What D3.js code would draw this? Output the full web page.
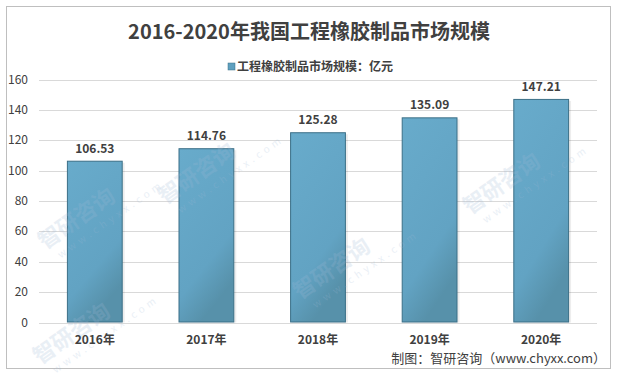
<!DOCTYPE html>
<html>
<head>
<meta charset="utf-8">
<script src="https://cdn.jsdelivr.net/npm/d3@7"></script>
<style>
  body { margin: 0; background: #fff; }
  text { font-family: "Noto Sans CJK SC", "Noto Sans", sans-serif; }
</style>
</head>
<body>
<div id="chart"></div>
<script>
var svgWidth = 617;
var svgHeight = 375;

// data
var years = ['2016年', '2017年', '2018年', '2019年', '2020年'];
var values = [106.53, 114.76, 125.28, 135.09, 147.21];
var yTicks = [0, 20, 40, 60, 80, 100, 120, 140, 160];
var title = '2016-2020年我国工程橡胶制品市场规模';
var legendLabel = '工程橡胶制品市场规模：亿元';
var source = '制图：智研咨询（www.chyxx.com）';

var svg = d3.select('#chart').append('svg')
  .attr('width', svgWidth)
  .attr('height', svgHeight);

var defs = svg.append('defs');
var grad = defs.append('linearGradient')
  .attr('id', 'barGrad')
  .attr('x1', '0%').attr('y1', '0%')
  .attr('x2', '40%').attr('y2', '100%');
grad.append('stop').attr('offset', '0%').attr('stop-color', '#68abcb');
grad.append('stop').attr('offset', '75%').attr('stop-color', '#62a3c3');
grad.append('stop').attr('offset', '100%').attr('stop-color', '#5791aa');

// outer frame
svg.append('rect')
  .attr('x', 6.5).attr('y', 6.5)
  .attr('width', 604).attr('height', 362)
  .attr('fill', '#fff')
  .attr('stroke', '#bfbfbf');

var x = d3.scaleBand()
  .domain(years)
  .range([39, 597])
  .paddingInner(0.5)
  .paddingOuter(0.25);

var y = d3.scaleLinear()
  .domain([0, 160])
  .range([322.5, 79.5]);

// gridlines
svg.append('g')
  .selectAll('line')
  .data(yTicks)
  .enter()
  .append('line')
  .attr('x1', 39).attr('x2', 597)
  .attr('y1', d => Math.round(y(d)) + 0.5)
  .attr('y2', d => Math.round(y(d)) + 0.5)
  .attr('stroke', '#d9d9d9');

// y tick labels
svg.append('g')
  .selectAll('text')
  .data(yTicks)
  .enter()
  .append('text')
  .attr('x', 28)
  .attr('y', d => y(d) + 4)
  .attr('text-anchor', 'end')
  .attr('font-size', 12)
  .attr('fill', '#404040')
  .text(d => d);

// bar shadows
svg.append('g')
  .selectAll('rect')
  .data(values)
  .enter()
  .append('rect')
  .attr('x', (d, i) => x(years[i]) + 2)
  .attr('y', d => y(d) + 2)
  .attr('width', x.bandwidth())
  .attr('height', d => y(0) - y(d) - 2)
  .attr('fill', '#000')
  .attr('opacity', 0.07);

// bars
svg.append('g')
  .selectAll('rect')
  .data(values)
  .enter()
  .append('rect')
  .attr('x', (d, i) => x(years[i]) + 0.5)
  .attr('y', d => y(d) + 0.5)
  .attr('width', x.bandwidth() - 1)
  .attr('height', d => y(0) - y(d) - 1)
  .attr('fill', 'url(#barGrad)')
  .attr('stroke', '#3b6f87')
  .attr('stroke-width', 1);

// faint watermarks, kept clear of the texts and edges
var marks = [[165, 205], [300, 300], [470, 215], [45, 250], [40, 365]];
marks.forEach(function(m) {
  var g = svg.append('g')
    .attr('transform', `translate(${m[0]}, ${m[1]}) rotate(-35)`)
    .attr('opacity', 0.22);
  g.append('text').attr('x', 0).attr('y', 0)
    .attr('font-size', 22).attr('font-weight', 'bold')
    .attr('fill', '#9fb9d6')
    .text('智研咨询');
  g.append('text').attr('x', 8).attr('y', 16)
    .attr('font-size', 10).attr('letter-spacing', 4)
    .attr('fill', '#9fb9d6')
    .text('www.chyxx.com');
});

// value labels
svg.append('g')
  .selectAll('text')
  .data(values)
  .enter()
  .append('text')
  .attr('x', (d, i) => x(years[i]) + x.bandwidth() / 2)
  .attr('y', d => y(d) - 8)
  .attr('text-anchor', 'middle')
  .attr('font-size', 12)
  .attr('font-weight', 'bold')
  .attr('fill', '#404040')
  .text(d => d.toFixed(2));

// x labels
svg.append('g')
  .selectAll('text')
  .data(years)
  .enter()
  .append('text')
  .attr('x', d => x(d) + x.bandwidth() / 2)
  .attr('y', 344)
  .attr('text-anchor', 'middle')
  .attr('font-size', 12)
  .attr('font-weight', 'bold')
  .attr('fill', '#404040')
  .text(d => d);

// title
svg.append('text')
  .attr('x', 309)
  .attr('y', 39)
  .attr('text-anchor', 'middle')
  .attr('font-size', 20)
  .attr('font-weight', 'bold')
  .attr('fill', '#404040')
  .text(title);

// legend
svg.append('rect')
  .attr('x', 228).attr('y', 63)
  .attr('width', 7).attr('height', 7)
  .attr('fill', '#5fa0bf')
  .attr('stroke', '#3b6f87')
  .attr('stroke-width', 0.5);
svg.append('text')
  .attr('x', 237)
  .attr('y', 71)
  .attr('font-size', 12)
  .attr('font-weight', 'bold')
  .attr('fill', '#404040')
  .text(legendLabel);

// source
svg.append('text')
  .attr('x', 606)
  .attr('y', 363)
  .attr('text-anchor', 'end')
  .attr('font-size', 13)
  .attr('fill', '#404040')
  .text(source);
</script>
</body>
</html>
